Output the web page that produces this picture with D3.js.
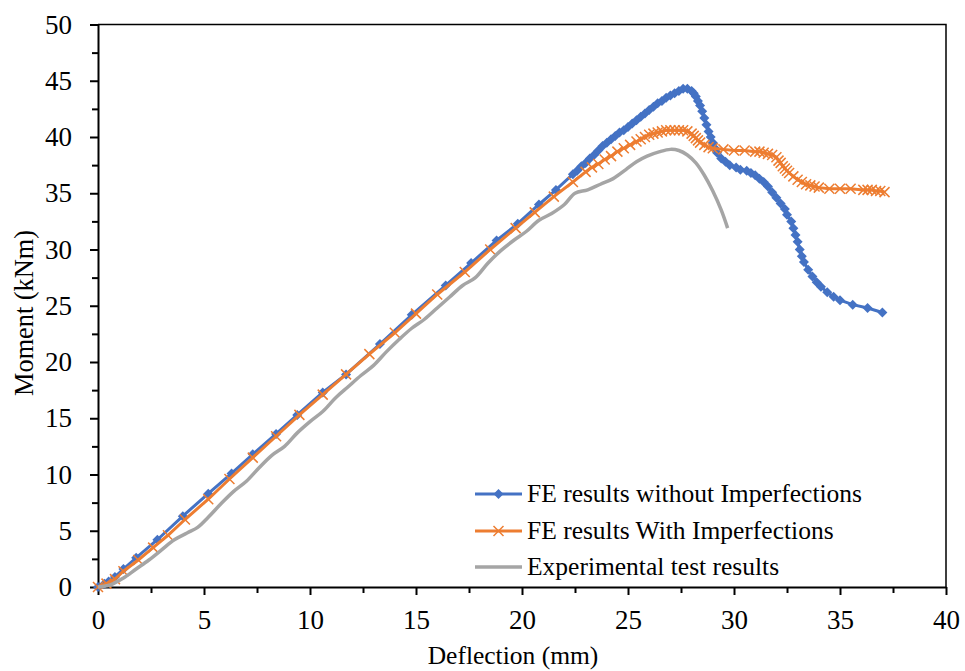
<!DOCTYPE html>
<html>
<head>
<meta charset="utf-8">
<script src="https://cdn.jsdelivr.net/npm/d3@7/dist/d3.min.js"></script>
<style>
  body { margin: 0; background: #fff; }
  svg text { font-family: "Liberation Serif", "Times New Roman", serif; fill: #000; }
</style>
</head>
<body>
<div id="chart"></div>
<script>
// FE results without imperfections (deflection mm, moment kNm)
const feNoImpX = [0, 0.3, 0.5, 0.8, 1.2, 1.8, 2.8, 4.0, 5.2, 6.3, 7.3, 8.4, 9.4, 10.6, 11.7, 13.3, 14.8, 16.4, 17.6, 18.8,
  19.8, 20.8, 21.6, 22.4, 22.6, 22.8, 23.0, 23.2, 23.4, 23.6, 23.8, 24.0, 24.2, 24.4, 24.6, 24.8, 25.0, 25.2, 25.4, 25.6,
  25.8, 26.0, 26.2, 26.4, 26.6, 26.8, 27.0, 27.2, 27.4, 27.6, 27.8, 28.0, 28.1, 28.2, 28.3, 28.4, 28.5, 28.6, 28.7, 28.8,
  28.9, 29.0, 29.1, 29.2, 29.4, 29.6, 29.8, 30.1, 30.3, 30.6, 30.8, 31.0, 31.2, 31.4, 31.6, 31.8, 32.0, 32.2, 32.4, 32.5,
  32.7, 32.8, 32.9, 33.0, 33.1, 33.2, 33.3, 33.5, 33.7, 33.9, 34.1, 34.4, 34.7, 35.0, 35.6, 36.3, 37.0];
const feNoImpY = [0, 0.3, 0.5, 0.9, 1.6, 2.6, 4.2, 6.3, 8.3, 10.1, 11.8, 13.6, 15.3, 17.3, 18.9, 21.6, 24.2, 26.8, 28.8, 30.8,
  32.3, 34.0, 35.3, 36.7, 37.0, 37.4, 37.7, 38.1, 38.4, 38.8, 39.2, 39.5, 39.8, 40.1, 40.4, 40.6, 40.9, 41.2, 41.5, 41.8,
  42.1, 42.4, 42.7, 43.0, 43.2, 43.5, 43.7, 43.9, 44.1, 44.3, 44.3, 44.1, 43.9, 43.6, 43.2, 42.8, 42.3, 41.7, 41.1, 40.5,
  40.0, 39.5, 39.0, 38.6, 38.1, 37.8, 37.5, 37.3, 37.1, 37.0, 36.8, 36.6, 36.3, 36.0, 35.6, 35.1, 34.6, 34.1, 33.6, 33.1,
  32.5, 31.9, 31.3, 30.7, 30.0, 29.4, 28.9, 28.2, 27.6, 27.1, 26.7, 26.2, 25.8, 25.5, 25.1, 24.8, 24.4];

// FE results with imperfections
const feImpX = [0, 0.4, 0.8, 1.2, 1.9, 2.6, 3.3, 4.1, 5.2, 6.2, 7.3, 8.4, 9.5, 10.6, 11.7, 12.8, 14.0, 15.0, 16.0, 17.3,
  18.5, 19.7, 20.6, 21.5, 22.4, 23.0, 23.3, 23.6, 23.9, 24.2, 24.5, 24.8, 25.1, 25.4, 25.6, 25.8, 26.0, 26.2, 26.4, 26.6,
  26.8, 27.0, 27.2, 27.4, 27.6, 27.8, 28.0, 28.1, 28.2, 28.3, 28.4, 28.6, 28.8, 29.0, 29.5, 30.0, 30.5, 31.0, 31.2, 31.4,
  31.6, 31.8, 32.0, 32.1, 32.2, 32.3, 32.4, 32.5, 32.6, 32.8, 33.0, 33.2, 33.4, 33.6, 33.8, 34.0, 34.5, 35.0, 35.5, 36.1,
  36.3, 36.5, 36.7, 36.9, 37.1];
const feImpY = [0, 0.3, 0.7, 1.4, 2.4, 3.5, 4.6, 6.0, 7.8, 9.6, 11.5, 13.4, 15.3, 17.1, 18.9, 20.7, 22.6, 24.3, 26.0, 28.0,
  30.0, 31.9, 33.3, 34.7, 36.0, 36.9, 37.3, 37.6, 38.0, 38.3, 38.7, 39.0, 39.3, 39.6, 39.8, 40.0, 40.2, 40.3, 40.4, 40.5,
  40.6, 40.6, 40.6, 40.6, 40.6, 40.5, 40.3, 40.1, 39.9, 39.7, 39.5, 39.3, 39.1, 39.0, 38.9, 38.8, 38.8, 38.7, 38.7, 38.6,
  38.5, 38.4, 38.2, 37.9, 37.7, 37.4, 37.2, 37.0, 36.8, 36.5, 36.2, 36.0, 35.8, 35.7, 35.6, 35.5, 35.4, 35.4, 35.4, 35.3,
  35.3, 35.3, 35.2, 35.2, 35.1];

// Experimental test results
const expX = [0, 0.6, 1.2, 1.8, 2.4, 3.0, 3.6, 4.2, 4.7, 5.2, 5.8, 6.4, 7.0, 7.6, 8.2, 8.8, 9.4, 10.0, 10.6, 11.2,
  11.8, 12.4, 13.0, 13.6, 14.2, 14.8, 15.4, 16.0, 16.6, 17.2, 17.8, 18.4, 19.0, 19.6, 20.2, 20.8, 21.4, 22.0, 22.5, 23.1,
  23.7, 24.3, 24.9, 25.4, 25.9, 26.5, 27.0, 27.4, 27.8, 28.2, 28.6, 29.0, 29.4, 29.7];
const expY = [0, 0.2, 0.8, 1.6, 2.4, 3.3, 4.2, 4.8, 5.3, 6.2, 7.4, 8.5, 9.4, 10.6, 11.7, 12.5, 13.7, 14.7, 15.6, 16.8,
  17.8, 18.8, 19.7, 20.9, 22.0, 23.0, 23.8, 24.8, 25.8, 26.8, 27.5, 28.8, 29.9, 30.8, 31.6, 32.6, 33.2, 34.0, 35.0, 35.3,
  35.8, 36.3, 37.1, 37.8, 38.3, 38.7, 38.9, 38.8, 38.4, 37.7, 36.6, 35.2, 33.5, 31.9];

const xTicks = [0, 5, 10, 15, 20, 25, 30, 35, 40];
const yTicks = [0, 5, 10, 15, 20, 25, 30, 35, 40, 45, 50];
const seriesNames = ["FE results without Imperfections", "FE results With Imperfections", "Experimental test results"];

const W = 965, H = 671;
const svg = d3.select("#chart").append("svg").attr("width", W).attr("height", H);

const x = d3.scaleLinear().domain([0, 40]).range([98, 946]);
const y = d3.scaleLinear().domain([0, 50]).range([587, 24.5]);

// frame (top/right)
svg.append("path")
  .attr("d", `M${x(0)},${y(50)}H${x(40)}V${y(0)}`)
  .attr("fill", "none").attr("stroke", "#000").attr("stroke-width", 1.5);

// minor ticks
const minorX = d3.range(2.5, 40, 5);
const minorY = d3.range(2.5, 50, 5);
svg.append("g").attr("transform", `translate(0,${y(0)})`)
  .call(d3.axisBottom(x).tickValues(minorX).tickSize(6).tickSizeOuter(0).tickFormat(""))
  .call(g => g.select(".domain").remove())
  .selectAll("line").attr("stroke-width", 2);
svg.append("g").attr("transform", `translate(${x(0)},0)`)
  .call(d3.axisLeft(y).tickValues(minorY).tickSize(6).tickSizeOuter(0).tickFormat(""))
  .call(g => g.select(".domain").remove())
  .selectAll("line").attr("stroke-width", 2);

// major axes
const xAxis = svg.append("g").attr("transform", `translate(0,${y(0)})`)
  .call(d3.axisBottom(x).tickValues(xTicks).tickSize(8).tickSizeOuter(0).tickPadding(15));
const yAxis = svg.append("g").attr("transform", `translate(${x(0)},0)`)
  .call(d3.axisLeft(y).tickValues(yTicks).tickSize(8).tickSizeOuter(0).tickPadding(18));
[xAxis, yAxis].forEach(g => {
  g.select(".domain").attr("stroke-width", 2);
  g.selectAll("line").attr("stroke-width", 2);
  g.selectAll("text").attr("font-size", 27).style("font-family", "Liberation Serif");
});

// axis titles
svg.append("text")
  .attr("x", 513).attr("y", 664)
  .attr("text-anchor", "middle").attr("font-size", 25.5)
  .text("Deflection (mm)");
svg.append("text")
  .attr("transform", "translate(33,313) rotate(-90)")
  .attr("text-anchor", "middle").attr("font-size", 26.3)
  .text("Moment (kNm)");

const line = d3.line().x(d => x(d[0])).y(d => y(d[1]));
const blue = "#4472C4", orange = "#ED7D31", grey = "#A5A5A5";

const bluePts = feNoImpX.map((v, i) => [v, feNoImpY[i]]);
const orangePts = feImpX.map((v, i) => [v, feImpY[i]]);
const greyPts = expX.map((v, i) => [v, expY[i]]);

const diamond = s => `M0,${-s}L${s},0L0,${s}L${-s},0Z`;
const cross = s => `M${-s},${-s}L${s},${s}M${-s},${s}L${s},${-s}`;

// blue series
svg.append("path").datum(bluePts).attr("d", line)
  .attr("fill", "none").attr("stroke", blue).attr("stroke-width", 3);
svg.append("g").selectAll("path").data(bluePts).join("path")
  .attr("transform", d => `translate(${x(d[0])},${y(d[1])})`)
  .attr("d", diamond(5)).attr("fill", blue);

// orange series
svg.append("path").datum(orangePts).attr("d", line)
  .attr("fill", "none").attr("stroke", orange).attr("stroke-width", 3);
svg.append("g").selectAll("path").data(orangePts).join("path")
  .attr("transform", d => `translate(${x(d[0])},${y(d[1])})`)
  .attr("d", cross(5)).attr("fill", "none").attr("stroke", orange).attr("stroke-width", 1.5);

// experimental
svg.append("path").datum(greyPts).attr("d", d3.line().curve(d3.curveCatmullRom).x(d => x(d[0])).y(d => y(d[1])))
  .attr("fill", "none").attr("stroke", grey).attr("stroke-width", 3.5);

// legend
const legendY = [494, 531, 567];
const legend = svg.append("g");
seriesNames.forEach((name, i) => {
  const col = [blue, orange, grey][i];
  const ly = legendY[i];
  legend.append("line").attr("x1", 475).attr("x2", 522).attr("y1", ly).attr("y2", ly)
    .attr("stroke", col).attr("stroke-width", i === 2 ? 3.5 : 3);
  if (i === 0) legend.append("path").attr("transform", `translate(498.5,${ly})`).attr("d", diamond(5)).attr("fill", blue);
  if (i === 1) legend.append("path").attr("transform", `translate(498.5,${ly})`).attr("d", cross(5))
    .attr("fill", "none").attr("stroke", orange).attr("stroke-width", 1.5);
  legend.append("text").attr("x", 527).attr("y", ly + 8).attr("font-size", 25.5).text(name);
});
</script>
</body>
</html>
